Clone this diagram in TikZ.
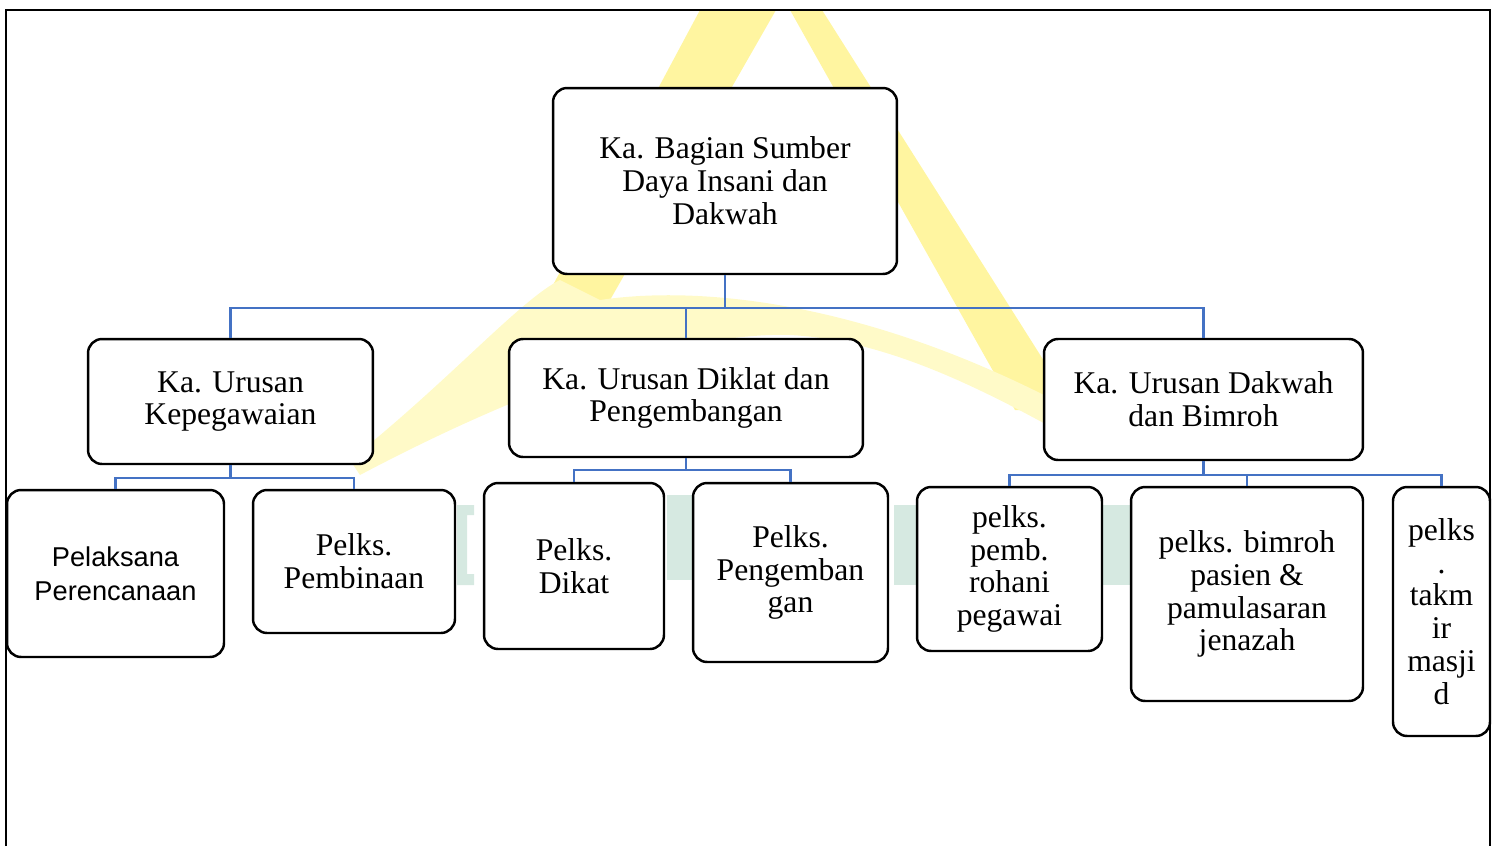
\documentclass[tikz,border=0pt]{standalone}
\usepackage{fontspec}
\setmainfont{Liberation Serif}
\setsansfont{Liberation Sans}
\usepackage{tikz}
\usetikzlibrary{calc}
\definecolor{linkblue}{RGB}{68,114,196}
\definecolor{wmyellow}{RGB}{255,245,160}
\definecolor{wmpale}{RGB}{255,250,200}
\definecolor{wmgreen}{RGB}{214,233,225}
\tikzset{>=latex}
\tikzstyle{unit}=[black,draw=black,line width=1.4pt,shape=rectangle,rounded corners=8pt,fill=white,align=center,inner sep=0pt,font=\fontsize{18}{18.7}\selectfont]
\tikzstyle{link}=[line width=1.4pt,color=linkblue]
\tikzstyle{frame}=[line width=1.2pt,color=black]
\tikzstyle{wmark}=[fill=wmyellow,draw=none]
\tikzstyle{wmletter}=[fill=wmgreen,draw=none]

\begin{document}
\begin{tikzpicture}[x=0.02cm, y=-0.02cm]

	\useasboundingbox (0,0) rectangle (1499,846);

	% Watermark
	\fill[wmark] (700,10) -- (776,10) -- (610,300) -- (545,300) -- cycle;
	\fill[wmark] (790,10) -- (822,10) -- (1075,410) -- (1015,410) -- cycle;
	\fill[wmpale] (350,460) .. controls (450,380) and (520,300) .. (560,280) -- (600,300) .. controls (700,285) and (880,300) .. (1100,425) -- (1092,450) .. controls (990,392) and (890,340) .. (790,335) .. controls (690,332) and (540,380) .. (360,475) -- cycle;
	\fill[wmletter] (457,505) -- (474,505) -- (474,515) -- (467,515) -- (467,574) -- (474,574) -- (474,585) -- (457,585) -- cycle;
	\fill[wmletter] (667,495) rectangle (692,580);
	\fill[wmletter] (894,505) rectangle (916,585);
	\fill[wmletter] (1103,505) rectangle (1130,585);

	% Frame
	\draw[frame] (6,846) -- (6,10) -- (1490,10) -- (1490,846);

	% Head
	\node[unit, minimum width=6.88cm, minimum height=3.72cm] (head) at (725,181) {Ka. Bagian Sumber\\Daya Insani dan\\Dakwah};

	% Urusan
	\node[unit, minimum width=5.70cm, minimum height=2.50cm] (kepeg) at (230.5,401.5) {Ka. Urusan\\Kepegawaian};
	\node[unit, minimum width=7.08cm, minimum height=2.36cm] (diklat) at (686,398) {Ka. Urusan Diklat dan\\Pengembangan};
	\node[unit, minimum width=6.38cm, minimum height=2.42cm] (dakwah) at (1203.5,399.5) {Ka. Urusan Dakwah\\dan Bimroh};

	% Pelaksana
	\node[unit, minimum width=4.34cm, minimum height=3.34cm, font=\sffamily\fontsize{15.5}{19.3}\selectfont] (renc) at (115.5,573.5) {Pelaksana\\Perencanaan};
	\node[unit, minimum width=4.04cm, minimum height=2.86cm] (bina) at (354,561.5) {Pelks.\\Pembinaan};
	\node[unit, minimum width=3.60cm, minimum height=3.32cm] (dikat) at (574,566) {Pelks.\\Dikat};
	\node[unit, minimum width=3.90cm, minimum height=3.58cm] (kemb) at (790.5,572.5) {Pelks.\\Pengemban\\gan};
	\node[unit, minimum width=3.70cm, minimum height=3.28cm] (rohani) at (1009.5,569) {pelks.\\pemb.\\rohani\\pegawai};
	\node[unit, minimum width=4.64cm, minimum height=4.28cm] (bimroh) at (1247,594) {pelks. bimroh\\pasien \&\\pamulasaran\\jenazah};
	\node[unit, minimum width=1.94cm, minimum height=4.98cm] (takmir) at (1441.5,611.5) {pelks\\.\\takm\\ir\\masji\\d};

	% Links
	\coordinate (jhead) at ($(head.south) + (0,33)$);
	\draw[link] (head.south) -- (jhead) -| (kepeg.north);
	\draw[link] (jhead) -| (diklat.north);
	\draw[link] (jhead) -| (dakwah.north);
	\coordinate (jkepeg) at ($(kepeg.south) + (0,13)$);
	\draw[link] (kepeg.south) -- (jkepeg) -| (renc.north);
	\draw[link] (jkepeg) -| (bina.north);
	\coordinate (jdiklat) at ($(diklat.south) + (0,12)$);
	\draw[link] (diklat.south) -- (jdiklat) -| (dikat.north);
	\draw[link] (jdiklat) -| (kemb.north);
	\coordinate (jdakwah) at ($(dakwah.south) + (0,14)$);
	\draw[link] (dakwah.south) -- (jdakwah) -| (rohani.north);
	\draw[link] (jdakwah) -| (bimroh.north);
	\draw[link] (jdakwah) -| (takmir.north);

\end{tikzpicture}
\end{document}
